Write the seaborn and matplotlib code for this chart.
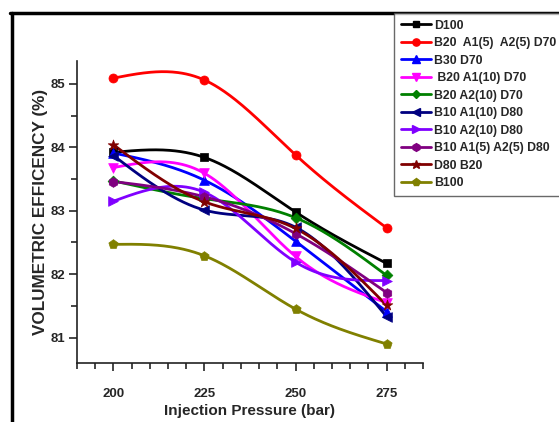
import numpy as np
import pandas as pd
import matplotlib
matplotlib.use("Agg")
import matplotlib.pyplot as plt
import seaborn as sns
from matplotlib.lines import Line2D

pressure = [200, 225, 250, 275]
series_names = ["D100", "B20  A1(5)  A2(5) D70", "B30 D70", " B20 A1(10) D70",
                "B20 A2(10) D70", "B10 A1(10) D80", "B10 A2(10) D80",
                "B10 A1(5) A2(5) D80", "D80 B20", "B100"]
d100 = [83.92, 83.84, 82.98, 82.17]
b20_a1a2_d70 = [85.09, 85.06, 83.88, 82.73]
b30_d70 = [83.91, 83.48, 82.52, 81.41]
b20_a1_d70 = [83.68, 83.59, 82.28, 81.55]
b20_a2_d70 = [83.47, 83.19, 82.89, 81.98]
b10_a1_d80 = [83.87, 83.01, 82.74, 81.33]
b10_a2_d80 = [83.15, 83.29, 82.19, 81.90]
b10_a1a2_d80 = [83.46, 83.22, 82.64, 81.71]
d80_b20 = [84.04, 83.14, 82.72, 81.51]
b100 = [82.47, 82.29, 81.45, 80.90]
values = [d100, b20_a1a2_d70, b30_d70, b20_a1_d70, b20_a2_d70,
          b10_a1_d80, b10_a2_d80, b10_a1a2_d80, d80_b20, b100]
colors = ["#000000", "#ff0000", "#0000ff", "#ff00ff", "#008000",
          "#000080", "#8000ff", "#800080", "#800000", "#808000"]
markers = ["s", "o", "^", "v", "D", "<", ">", "h", "*", "p"]
msizes = [6, 6.5, 7, 7, 5.5, 7, 7, 7, 8, 7]


def natural_spline(x, y, xs):
    x = np.asarray(x, float); y = np.asarray(y, float)
    n = len(x)
    h = np.diff(x)
    A = np.zeros((n, n)); b = np.zeros(n)
    A[0, 0] = 1; A[-1, -1] = 1
    for i in range(1, n - 1):
        A[i, i - 1] = h[i - 1]; A[i, i] = 2 * (h[i - 1] + h[i]); A[i, i + 1] = h[i]
        b[i] = 3 * ((y[i + 1] - y[i]) / h[i] - (y[i] - y[i - 1]) / h[i - 1])
    c = np.linalg.solve(A, b)
    out = np.empty_like(xs)
    for k, xv in enumerate(xs):
        i = min(max(np.searchsorted(x, xv) - 1, 0), n - 2)
        dx = xv - x[i]
        bi = (y[i + 1] - y[i]) / h[i] - h[i] * (2 * c[i] + c[i + 1]) / 3
        di = (c[i + 1] - c[i]) / (3 * h[i])
        out[k] = y[i] + bi * dx + c[i] * dx ** 2 + di * dx ** 3
    return out


sns.set_style("ticks")
plt.rcParams['font.family'] = ['Liberation Sans', 'DejaVu Sans']
plt.rcParams['font.weight'] = 'bold'

fig = plt.figure(figsize=(5.59, 4.22), dpi=100)
ax = fig.add_axes([77 / 559, 1 - 363 / 422, (423 - 77) / 559, (363 - 61) / 422])

xs = np.linspace(pressure[0], pressure[-1], 200)
handles = []
for name, vals, c, m, ms in zip(series_names, values, colors, markers, msizes):
    ys = natural_spline(pressure, vals, xs)
    sns.lineplot(x=xs, y=ys, color=c, lw=2, ax=ax, legend=False)
    sns.scatterplot(x=pressure, y=vals, color=c, marker=m, s=ms ** 2,
                    edgecolor=c, linewidth=0.5, ax=ax, legend=False, zorder=5)
    handles.append(Line2D([], [], color=c, lw=2, marker=m, markersize=ms * 0.8,
                          markeredgecolor=c, label=name))

ax.set_xlim(190, 285)
ax.set_ylim(80.6, 85.36)
ax.set_xticks(pressure)
ax.set_xticks(np.arange(190, 286, 5), minor=True)
ax.set_yticks([81, 82, 83, 84, 85])
ax.set_yticks(np.arange(81, 85.4, 0.5), minor=True)
ax.tick_params(axis='both', which='major', length=6, width=1.2, labelsize=9.5, direction='out')
ax.tick_params(axis='both', which='minor', length=4, width=1.2, direction='out')
ax.tick_params(axis='x', which='major', pad=12)
ax.tick_params(axis='y', which='major', pad=2.5)
for lab in ax.get_xticklabels() + ax.get_yticklabels():
    lab.set_fontweight('bold')
for s in ['top', 'right']:
    ax.spines[s].set_visible(False)
for s in ['left', 'bottom']:
    ax.spines[s].set_linewidth(1.2)
    ax.spines[s].set_color('#222222')

ax.set_xlabel("Injection Pressure (bar)", fontsize=11, fontweight='bold', labelpad=3)
ax.set_ylabel("VOLUMETRIC EFFICENCY (%)", fontsize=12.3, fontweight='bold', labelpad=2)

leg = fig.legend(handles=handles, loc='upper left', bbox_to_anchor=(394 / 559, 1 - 13 / 422),
                 frameon=True, fancybox=False, borderaxespad=0,
                 handlelength=2.45, handletextpad=0.25, labelspacing=0.45,
                 borderpad=0.55, prop={'weight': 'bold', 'size': 8.8})
leg.get_frame().set_edgecolor('#444444')
leg.get_frame().set_linewidth(1.0)

# outer frame lines (screenshot border)
fig.add_artist(Line2D([10 / 559, 1], [1 - 13 / 422, 1 - 13 / 422], color='black', lw=2.5,
                      transform=fig.transFigure))
fig.add_artist(Line2D([12 / 559, 12 / 559], [1 - 13 / 422, 0], color='black', lw=2.5,
                      transform=fig.transFigure))

fig.savefig("out.png", dpi=100)
